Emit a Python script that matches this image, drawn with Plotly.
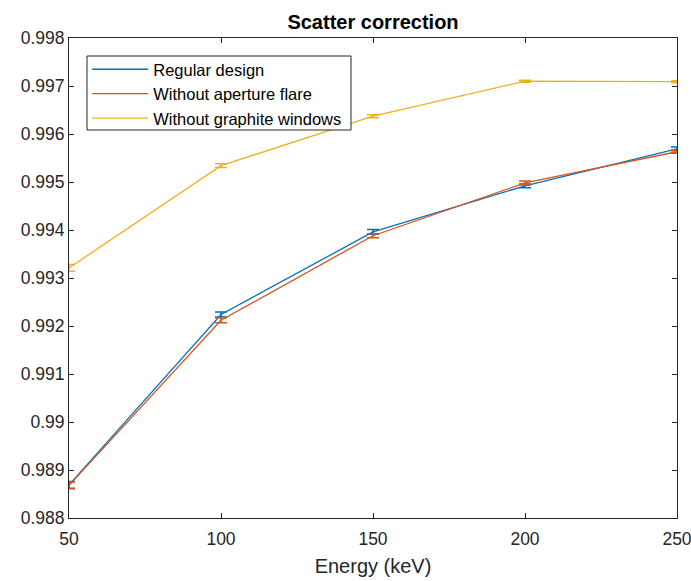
import plotly.graph_objects as go

energy = [50, 100, 150, 200, 250]
regular = [0.98869, 0.99224, 0.99396, 0.99492, 0.99569]
regular_err = [0.00007, 0.00005, 0.00005, 0.00004, 0.00004]
no_flare = [0.98868, 0.99212, 0.99388, 0.99498, 0.99563]
no_flare_err = [0.00007, 0.00005, 0.00004, 0.00004, 0.00003]
no_graphite = [0.99321, 0.99534, 0.99637, 0.99710, 0.99709]
no_graphite_err = [0.00007, 0.00004, 0.00003, 0.00002, 0.00002]

names = ["Regular design", "Without aperture flare", "Without graphite windows"]
colors = ["#0072BD", "#D95319", "#EDB120"]
series = [(regular, regular_err), (no_flare, no_flare_err), (no_graphite, no_graphite_err)]

fig = go.Figure()
for name, color, (vals, errs) in zip(names, colors, series):
    fig.add_trace(go.Scatter(
        x=energy, y=vals, name=name, mode="lines",
        line=dict(color=color, width=1.3),
        error_y=dict(type="data", array=errs, visible=True, color=color, thickness=1.5, width=6),
        cliponaxis=False,
    ))

axis_common = dict(
    showgrid=False, zeroline=False, showline=True, linecolor="#262626", linewidth=1,
    mirror="ticks", ticks="inside", ticklen=5, tickcolor="#262626", tickwidth=1,
    tickfont=dict(size=17.5, color="#262626"), automargin=False,
    ticklabeloverflow="allow",
)

fig.update_layout(
    width=691, height=581,
    margin=dict(l=69, r=14, t=38, b=63),
    paper_bgcolor="white", plot_bgcolor="white",
    font=dict(family="Liberation Sans, Arial, sans-serif", color="#262626"),
    title=dict(text="<b>Scatter correction</b>", x=0.5, xanchor="center", xref="paper",
               y=1 - 22 / 581, yref="container", yanchor="middle",
               font=dict(size=20, color="black")),
    xaxis=dict(range=[50, 250], tickvals=[50, 100, 150, 200, 250],
               ticklabelstandoff=5,
               title=dict(text="Energy (keV)", font=dict(size=20, color="#262626"), standoff=10),
               **axis_common),
    yaxis=dict(range=[0.988, 0.998], tickvals=[0.988 + 0.001 * i for i in range(11)],
               ticktext=["0.988", "0.989", "0.99", "0.991", "0.992", "0.993", "0.994",
                         "0.995", "0.996", "0.997", "0.998"],
               **axis_common),
    legend=dict(x=0.03, y=0.9625 + 4 / 480, xanchor="left", yanchor="top",
                bgcolor="rgba(0,0,0,0)", borderwidth=0,
                font=dict(size=16.5, color="black"), tracegroupgap=0,
                itemwidth=56),
    showlegend=True,
    shapes=[dict(type="rect", xref="paper", yref="paper",
                 x0=(87 - 69) / 608, x1=(351 - 69) / 608,
                 y0=(518 - 130) / 480, y1=(518 - 56) / 480,
                 line=dict(color="#262626", width=1), fillcolor="white", layer="above")],
)

fig.write_html("out.html")
